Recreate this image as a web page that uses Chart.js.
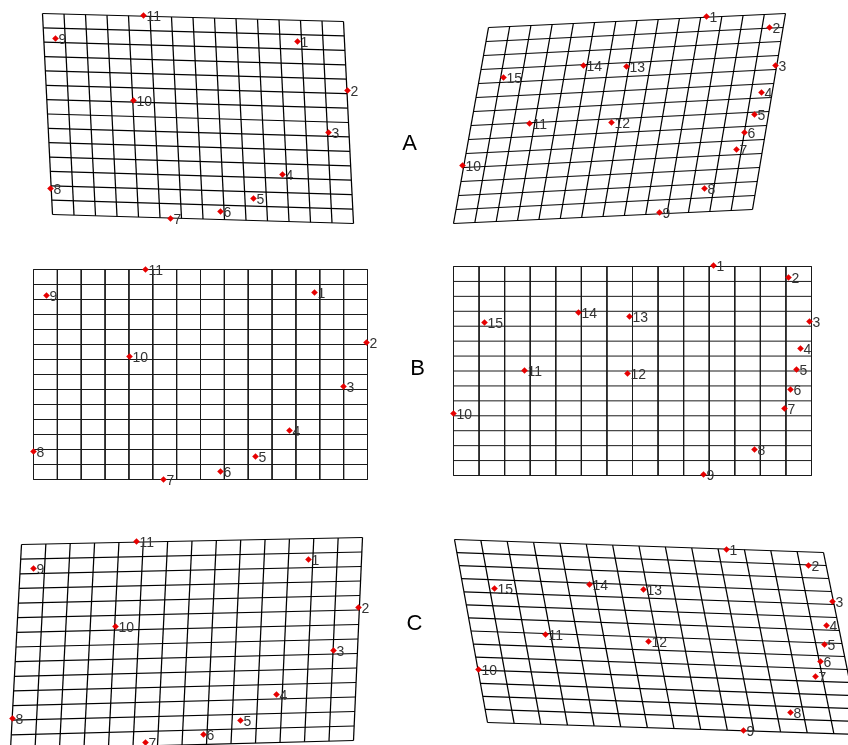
<!DOCTYPE html>
<html>
<head>
<meta charset="utf-8">
<script src="https://cdn.jsdelivr.net/npm/chart.js@4/dist/chart.umd.min.js"></script>
<style>
  body { margin: 0; background: #fff; }
  #warp { display: block; }
</style>
</head>
<body>
<canvas id="warp" width="848" height="745"></canvas>
<script>
// grid divisions of every panel
const gridCols = 14;
const gridRows = 14;

// panel outlines: top-left, top-right, bottom-right, bottom-left
const aLeftCorners = [[42, 13], [343, 21], [353, 223], [52, 214]];
const aRightCorners = [[488, 27], [785, 13], [752, 209], [453, 223]];
const bLeftCorners = [[33, 269], [367, 269], [367, 479], [33, 479]];
const bRightCorners = [[453, 266], [811, 266], [811, 475], [453, 475]];
const cLeftCorners = [[21, 544], [362, 537], [353, 740], [10, 749]];
const cRightCorners = [[454, 539], [823, 552], [860, 734], [487, 722]];

// landmark labels
const leftLabels = ["1", "2", "3", "4", "5", "6", "7", "8", "9", "10", "11"];
const rightLabels = ["1", "2", "3", "4", "5", "6", "7", "8", "9", "10", "11", "12", "13", "14", "15"];

// landmark positions
const aLeftX = [297, 347, 328, 282, 253, 220, 170, 50, 55, 133, 143];
const aLeftY = [41, 90, 132, 174, 198, 211, 218, 188, 38, 100, 15];
const aRightX = [706, 769, 775, 761, 754, 744, 736, 704, 659, 462, 529, 611, 626, 583, 503];
const aRightY = [16, 27, 65, 92, 114, 132, 149, 188, 212, 165, 123, 122, 66, 65, 77];
const bLeftX = [314, 366, 343, 289, 255, 220, 163, 33, 46, 129, 145];
const bLeftY = [292, 342, 386, 430, 456, 471, 479, 451, 295, 356, 269];
const bRightX = [713, 788, 809, 800, 796, 790, 784, 754, 703, 453, 524, 627, 629, 578, 484];
const bRightY = [265, 277, 321, 348, 369, 389, 408, 449, 474, 413, 370, 373, 316, 312, 322];
const cLeftX = [308, 358, 333, 276, 240, 203, 145, 12, 33, 115, 136];
const cLeftY = [559, 607, 650, 694, 720, 734, 742, 718, 568, 626, 541];
const cRightX = [726, 808, 832, 826, 824, 820, 815, 790, 743, 478, 545, 648, 643, 589, 494];
const cRightY = [549, 565, 601, 625, 644, 661, 676, 712, 730, 669, 634, 641, 589, 584, 588];

// row letters
const rowLetters = ["A", "B", "C"];
const rowLetterX = [409, 417, 414];
const rowLetterY = [143, 368, 623];

const panels = [
  { corners: aLeftCorners, xs: aLeftX, ys: aLeftY, labels: leftLabels, warped: true },
  { corners: aRightCorners, xs: aRightX, ys: aRightY, labels: rightLabels, warped: true },
  { corners: bLeftCorners, xs: bLeftX, ys: bLeftY, labels: leftLabels, warped: false },
  { corners: bRightCorners, xs: bRightX, ys: bRightY, labels: rightLabels, warped: false },
  { corners: cLeftCorners, xs: cLeftX, ys: cLeftY, labels: leftLabels, warped: true },
  { corners: cRightCorners, xs: cRightX, ys: cRightY, labels: rightLabels, warped: true },
];

function along(p, q, t) {
  return { x: p[0] + (q[0] - p[0]) * t, y: p[1] + (q[1] - p[1]) * t };
}

function gridDatasets(corners, warped) {
  const [tl, tr, br, bl] = corners;
  const out = [];
  for (let i = 0; i <= gridCols; i++) {
    const t = i / gridCols;
    out.push([along(tl, tr, t), along(bl, br, t)]);
  }
  for (let j = 0; j <= gridRows; j++) {
    const t = j / gridRows;
    out.push([along(tl, bl, t), along(tr, br, t)]);
  }
  return out.map(line => ({
    data: line,
    showLine: true,
    borderColor: warped ? "#000" : "#1a1a1a",
    borderWidth: warped ? 1.25 : 1,
    pointRadius: 0,
    order: 1,
  }));
}

const datasets = [];
panels.forEach(p => {
  datasets.push({
    data: p.xs.map((x, i) => ({ x: x, y: p.ys[i] })),
    labels: p.labels,
    pointStyle: "rectRot",
    pointRadius: 3.3,
    backgroundColor: "#e60000",
    borderWidth: 0,
    order: 0,
  });
  datasets.push(...gridDatasets(p.corners, p.warped));
});

const landmarkText = {
  id: "landmarkText",
  afterDatasetsDraw(chart) {
    const { ctx, scales } = chart;
    ctx.save();
    ctx.font = "14px 'Liberation Sans', Arial, sans-serif";
    ctx.fillStyle = "#333";
    ctx.textAlign = "left";
    ctx.textBaseline = "middle";
    chart.data.datasets.forEach(ds => {
      if (!ds.labels) return;
      ds.data.forEach((pt, i) => {
        const px = scales.x.getPixelForValue(pt.x);
        const py = scales.y.getPixelForValue(pt.y);
        ctx.fillText(ds.labels[i], px + 3, py + 2);
      });
    });
    ctx.font = "22px 'Liberation Sans', Arial, sans-serif";
    ctx.fillStyle = "#000";
    ctx.textAlign = "center";
    rowLetters.forEach((s, i) => {
      ctx.fillText(s, scales.x.getPixelForValue(rowLetterX[i]), scales.y.getPixelForValue(rowLetterY[i]));
    });
    ctx.restore();
  },
};

new Chart(document.getElementById("warp"), {
  type: "scatter",
  data: { datasets: datasets },
  options: {
    responsive: false,
    animation: false,
    events: [],
    layout: { padding: 0, autoPadding: false },
    plugins: { legend: { display: false }, tooltip: { enabled: false } },
    scales: {
      x: { type: "linear", display: false, min: -0.5, max: 847.5 },
      y: { type: "linear", display: false, min: -0.5, max: 744.5, reverse: true },
    },
  },
  plugins: [landmarkText],
});
</script>
</body>
</html>
